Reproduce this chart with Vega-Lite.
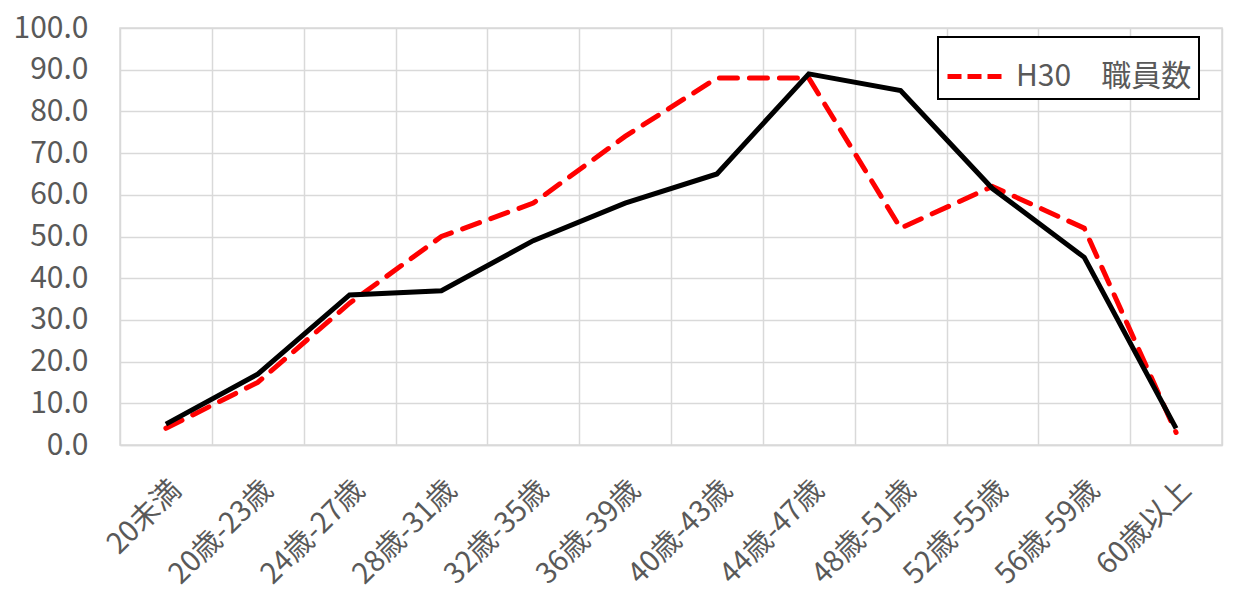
{
  "$schema": "https://vega.github.io/schema/vega-lite/v6.json",
  "width": 1102,
  "height": 417,
  "autosize": "none",
  "padding": {"left": 120, "top": 28, "right": 22, "bottom": 157},
  "background": "white",
  "config": {
    "font": "Noto Sans CJK JP",
    "view": {"stroke": "#d9d9d9", "strokeWidth": 1.5}
  },
  "data": {
    "values": [
      {"age": "20未満", "H30": 4, "current": 5},
      {"age": "20歳-23歳", "H30": 15, "current": 17},
      {"age": "24歳-27歳", "H30": 34, "current": 36},
      {"age": "28歳-31歳", "H30": 50, "current": 37},
      {"age": "32歳-35歳", "H30": 58, "current": 49},
      {"age": "36歳-39歳", "H30": 74, "current": 58},
      {"age": "40歳-43歳", "H30": 88, "current": 65},
      {"age": "44歳-47歳", "H30": 88, "current": 89},
      {"age": "48歳-51歳", "H30": 52, "current": 85},
      {"age": "52歳-55歳", "H30": 62, "current": 61.5},
      {"age": "56歳-59歳", "H30": 52, "current": 45},
      {"age": "60歳以上", "H30": 3, "current": 4}
    ]
  },
  "encoding": {
    "x": {
      "field": "age",
      "type": "nominal",
      "sort": null,
      "bandPosition": 0.5,
      "scale": {"type": "band", "paddingInner": 0, "paddingOuter": 0},
      "axis": {
        "title": null,
        "labelAngle": -45,
        "labelFontSize": 29,
        "labelColor": "#595959",
        "tickBand": "extent",
        "ticks": false,
        "grid": true,
        "gridColor": "#d9d9d9",
        "gridWidth": 1.5,
        "domainColor": "#d9d9d9",
        "domainWidth": 1.5,
        "labelPadding": 30,
        "labelDx": 3,
        "labelLimit": 300
      }
    }
  },
  "layer": [
    {
      "mark": {"type": "line", "strokeDash": [18, 12], "strokeWidth": 5, "strokeCap": "round"},
      "encoding": {
        "y": {
          "field": "H30",
          "type": "quantitative",
          "scale": {"domain": [0, 100]},
          "axis": {
            "title": null,
            "values": [0, 10, 20, 30, 40, 50, 60, 70, 80, 90, 100],
            "format": ".1f",
            "labelFontSize": 30,
            "labelColor": "#595959",
            "ticks": false,
            "domain": false,
            "grid": true,
            "gridColor": "#d9d9d9",
            "gridWidth": 1.5,
            "labelPadding": 32
          }
        },
        "color": {
          "datum": "H30　職員数",
          "type": "nominal",
          "scale": {"range": ["#ff0000"]},
          "legend": {
            "title": null,
            "orient": "none",
            "legendX": 818,
            "legendY": 9,
            "strokeColor": "black",
            "fillColor": "white",
            "padding": 7,
            "labelFontSize": 30,
            "labelColor": "#595959",
            "labelOffset": 6,
            "labelLimit": 400,
            "symbolType": "stroke",
            "symbolStrokeWidth": 5,
            "symbolDash": [14, 6],
            "symbolSize": 3600,
            "encode": {"legend": {"update": {"strokeWidth": {"value": 2}}}}
          }
        }
      }
    },
    {
      "mark": {"type": "line", "color": "black", "strokeWidth": 5},
      "encoding": {
        "y": {"field": "current", "type": "quantitative"}
      }
    }
  ]
}
